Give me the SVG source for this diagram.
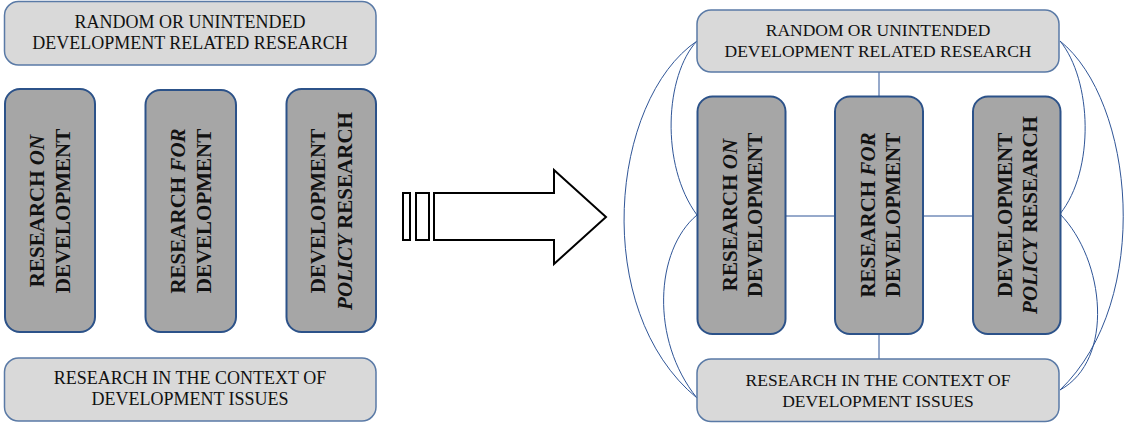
<svg xmlns="http://www.w3.org/2000/svg" width="1125" height="423" viewBox="0 0 1125 423">
<style>
text{font-family:"Liberation Serif","Times New Roman",serif;fill:#111;}
.lt{fill:#d9d9d9;stroke:#5a7aa6;stroke-width:1.5;}
.dk{fill:#a6a6a6;stroke:#2c5289;stroke-width:2;}
.h{font-size:18px;text-anchor:middle;}
.hr{font-size:17.5px;text-anchor:middle;}
.v{font-size:21px;font-weight:bold;text-anchor:middle;}
.i{font-style:italic;}
.con{fill:none;stroke:#2f5597;stroke-width:1;}
.arr{fill:#fff;stroke:#000;stroke-width:2;}
</style>
<rect width="1125" height="423" fill="#fff"/>

<!-- Left side -->
<g id="left-random">
<rect class="lt" x="4.5" y="1.5" width="371.5" height="63.5" rx="14"/>
<text class="h" x="190" y="28">RANDOM OR UNINTENDED</text>
<text class="h" x="190" y="49">DEVELOPMENT RELATED RESEARCH</text>
</g>
<g id="left-on">
<rect class="dk" x="5" y="89" width="90" height="243" rx="15"/>
<text class="v" transform="translate(49.5,211) rotate(-90)"><tspan x="0" y="-5.5">RESEARCH <tspan class="i">ON</tspan></tspan><tspan x="0" y="20.5">DEVELOPMENT</tspan></text>
</g>
<g id="left-for">
<rect class="dk" x="145.5" y="90" width="90.5" height="242" rx="15"/>
<text class="v" transform="translate(190.5,211) rotate(-90)"><tspan x="0" y="-5.5">RESEARCH <tspan class="i">FOR</tspan></tspan><tspan x="0" y="20.5">DEVELOPMENT</tspan></text>
</g>
<g id="left-policy">
<rect class="dk" x="286.5" y="89" width="89.5" height="243" rx="15"/>
<text class="v" transform="translate(331,211) rotate(-90)"><tspan x="0" y="-6">DEVELOPMENT</tspan><tspan x="0" y="21"><tspan class="i">POLICY</tspan> RESEARCH</tspan></text>
</g>
<g id="left-context">
<rect class="lt" x="4.5" y="358" width="371.5" height="63" rx="14"/>
<text class="h" x="190" y="384">RESEARCH IN THE CONTEXT OF</text>
<text class="h" x="190" y="405">DEVELOPMENT ISSUES</text>
</g>

<!-- Transition arrow -->
<g id="arrow">
<rect class="arr" x="403" y="193" width="7" height="47"/>
<rect class="arr" x="416" y="193" width="13" height="47"/>
<path class="arr" d="M434,193 H554 V170 L606,217 L554,264 V240 H434 Z" stroke-linejoin="miter"/>
</g>

<!-- Right side connectors -->
<g id="connectors">
<line class="con" x1="879" y1="72" x2="879" y2="96"/>
<line class="con" x1="879" y1="334" x2="879" y2="359"/>
<line class="con" x1="786" y1="216" x2="835" y2="216"/>
<line class="con" x1="923" y1="216" x2="973" y2="216"/>
<path class="con" d="M697,41 C610,100 590,310 697,398"/>
<path class="con" d="M697,41 C665,75 660,165 697,215"/>
<path class="con" d="M697,215 C655,250 650,340 697,398"/>
<path class="con" d="M1060,41 C1134,100 1154,300 1060,390"/>
<path class="con" d="M1060,41 C1092,80 1095,170 1060,214"/>
<path class="con" d="M1060,214 C1105,260 1115,360 1060,390"/>
</g>

<!-- Right side nodes -->
<g id="right-random">
<rect class="lt" x="697" y="10" width="362" height="62" rx="14"/>
<text class="hr" x="878" y="36">RANDOM OR UNINTENDED</text>
<text class="hr" x="878" y="57">DEVELOPMENT RELATED RESEARCH</text>
</g>
<g id="right-on">
<rect class="dk" x="697.5" y="96.5" width="88" height="237.5" rx="15"/>
<text class="v" transform="translate(741.5,215) rotate(-90)"><tspan x="0" y="-4.5">RESEARCH <tspan class="i">ON</tspan></tspan><tspan x="0" y="20.5">DEVELOPMENT</tspan></text>
</g>
<g id="right-for">
<rect class="dk" x="835" y="96.5" width="88" height="237.5" rx="15"/>
<text class="v" transform="translate(879,215) rotate(-90)"><tspan x="0" y="-4.5">RESEARCH <tspan class="i">FOR</tspan></tspan><tspan x="0" y="20.5">DEVELOPMENT</tspan></text>
</g>
<g id="right-policy">
<rect class="dk" x="973" y="96.5" width="87.5" height="237.5" rx="15"/>
<text class="v" transform="translate(1016.5,215) rotate(-90)"><tspan x="0" y="-5">DEVELOPMENT</tspan><tspan x="0" y="20.5"><tspan class="i">POLICY</tspan> RESEARCH</tspan></text>
</g>
<g id="right-context">
<rect class="lt" x="697" y="359" width="362" height="62.5" rx="14"/>
<text class="hr" x="878" y="386">RESEARCH IN THE CONTEXT OF</text>
<text class="hr" x="878" y="407">DEVELOPMENT ISSUES</text>
</g>
</svg>
